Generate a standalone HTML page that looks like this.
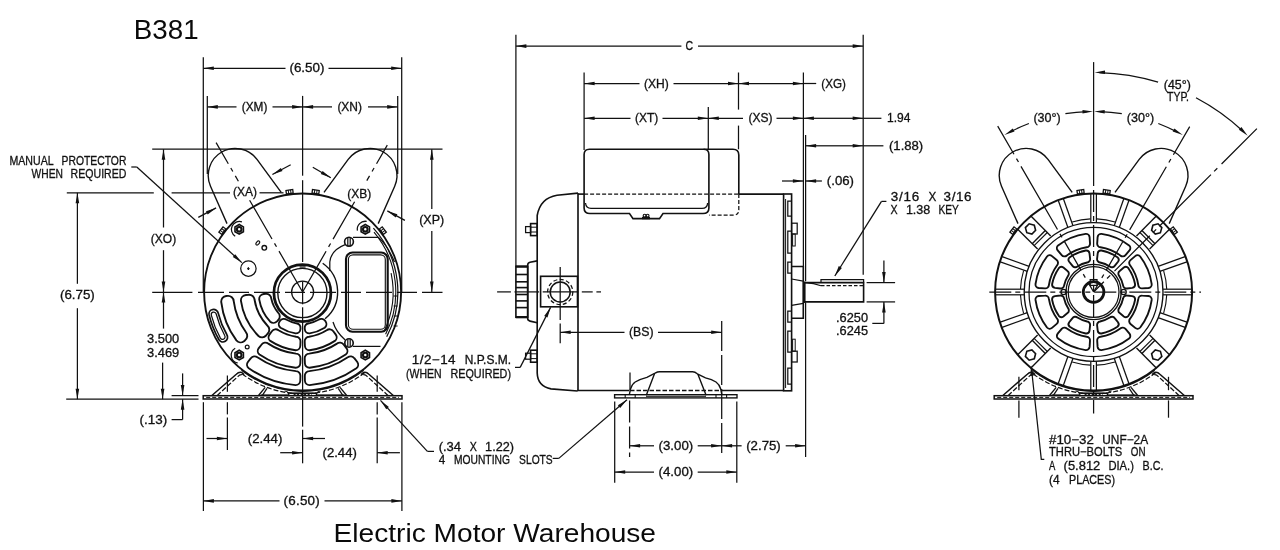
<!DOCTYPE html>
<html lang="en">
<head>
<meta charset="utf-8">
<title>B381 - Electric Motor Warehouse</title>
<style>
html,body{margin:0;padding:0;background:#fff;}
body{width:1280px;height:550px;overflow:hidden;}
svg{display:block;will-change:transform;}
text{fill:#111;}
.c{font-family:"Liberation Sans",sans-serif;stroke:#111;stroke-width:0.3px;}
.t{font-family:"Liberation Sans",sans-serif;fill:#0a0a0a;}
</style>
</head>
<body>
<svg width="1280" height="550" viewBox="0 0 1280 550" shape-rendering="geometricPrecision">
<rect x="0" y="0" width="1280" height="550" fill="#fff"/>
<text class="t" x="133.8" y="38.6" font-size="27" text-anchor="start" textLength="64.8" lengthAdjust="spacingAndGlyphs">B381</text>
<text class="t" x="333.6" y="542" font-size="26.4" text-anchor="start" textLength="322.4" lengthAdjust="spacingAndGlyphs">Electric Motor Warehouse</text>
<circle cx="302.6" cy="292" r="98.5" fill="none" stroke="#111" stroke-width="1.88"/>
<path d="M281.2 192.3 L257 159.4 A27 27 0 0 0 210.5 186.2 L227 223.6" fill="none" stroke="#111" stroke-width="1.38"/>
<g transform="translate(289.8 193.6) rotate(-7.4)"><rect x="-3.4" y="-3.6" width="6.8" height="3.6" fill="none" stroke="#111" stroke-width="1.3"/><line x1="-1.1" y1="-3.6" x2="-1.1" y2="0" stroke="#111"/><line x1="1.2" y1="-3.6" x2="1.2" y2="0" stroke="#111"/></g>
<g transform="translate(223.8 231.7) rotate(-52.6)"><rect x="-3.4" y="-3.6" width="6.8" height="3.6" fill="none" stroke="#111" stroke-width="1.3"/><line x1="-1.1" y1="-3.6" x2="-1.1" y2="0" stroke="#111"/><line x1="1.2" y1="-3.6" x2="1.2" y2="0" stroke="#111"/></g>
<path d="M378.2 223.6 L394.7 186.2 A27 27 0 0 0 348.2 159.4 L324 192.3" fill="none" stroke="#111" stroke-width="1.38"/>
<g transform="translate(315.4 193.6) rotate(7.4)"><rect x="-3.4" y="-3.6" width="6.8" height="3.6" fill="none" stroke="#111" stroke-width="1.3"/><line x1="-1.1" y1="-3.6" x2="-1.1" y2="0" stroke="#111"/><line x1="1.2" y1="-3.6" x2="1.2" y2="0" stroke="#111"/></g>
<g transform="translate(381.4 231.7) rotate(52.6)"><rect x="-3.4" y="-3.6" width="6.8" height="3.6" fill="none" stroke="#111" stroke-width="1.3"/><line x1="-1.1" y1="-3.6" x2="-1.1" y2="0" stroke="#111"/><line x1="1.2" y1="-3.6" x2="1.2" y2="0" stroke="#111"/></g>
<line x1="203.3" y1="57.2" x2="203.3" y2="292" stroke="#111" stroke-width="1.25"/>
<line x1="401.7" y1="57.2" x2="401.7" y2="292" stroke="#111" stroke-width="1.25"/>
<line x1="285.5" y1="68.3" x2="203.3" y2="68.3" stroke="#111" stroke-width="1.25"/>
<polygon points="203.3,68.3 213.8,66.5 213.8,70.1" fill="#111"/>
<line x1="328.5" y1="68.3" x2="401.7" y2="68.3" stroke="#111" stroke-width="1.25"/>
<polygon points="401.7,68.3 391.2,70.1 391.2,66.5" fill="#111"/>
<text class="c" x="289.4" y="72.2" font-size="12.2" text-anchor="start" textLength="35.2" lengthAdjust="spacingAndGlyphs" letter-spacing="0.02">(6.50)</text>
<line x1="207.3" y1="95.9" x2="207.3" y2="174" stroke="#111" stroke-width="1.25"/>
<line x1="397.7" y1="95.9" x2="397.7" y2="174" stroke="#111" stroke-width="1.25"/>
<line x1="302.6" y1="95.9" x2="302.6" y2="175.7" stroke="#111" stroke-width="1.25"/>
<line x1="302.6" y1="180.2" x2="302.6" y2="262" stroke="#111" stroke-width="1.25"/>
<line x1="302.6" y1="281.4" x2="302.6" y2="304.3" stroke="#111" stroke-width="1.25"/>
<line x1="302.6" y1="307.3" x2="302.6" y2="426.6" stroke="#111" stroke-width="1.25"/>
<line x1="302.6" y1="429.7" x2="302.6" y2="463.3" stroke="#111" stroke-width="1.25"/>
<line x1="236.5" y1="106.9" x2="207.3" y2="106.9" stroke="#111" stroke-width="1.25"/>
<polygon points="207.3,106.9 217.8,105.1 217.8,108.7" fill="#111"/>
<line x1="272.5" y1="106.9" x2="302.6" y2="106.9" stroke="#111" stroke-width="1.25"/>
<polygon points="302.6,106.9 292.1,108.7 292.1,105.1" fill="#111"/>
<line x1="332" y1="106.9" x2="302.6" y2="106.9" stroke="#111" stroke-width="1.25"/>
<polygon points="302.6,106.9 313.1,105.1 313.1,108.7" fill="#111"/>
<line x1="368" y1="106.9" x2="397.7" y2="106.9" stroke="#111" stroke-width="1.25"/>
<polygon points="397.7,106.9 387.2,108.7 387.2,105.1" fill="#111"/>
<text class="c" x="241.8" y="111" font-size="12.2" text-anchor="start" textLength="25.6" lengthAdjust="spacingAndGlyphs">(XM)</text>
<text class="c" x="337.4" y="111" font-size="12.2" text-anchor="start" textLength="24.6" lengthAdjust="spacingAndGlyphs">(XN)</text>
<line x1="152.2" y1="149.2" x2="442.5" y2="149.2" stroke="#111" stroke-width="1.25"/>
<line x1="66.8" y1="192.8" x2="153.8" y2="192.8" stroke="#111" stroke-width="1.25"/>
<line x1="171.6" y1="192.8" x2="230" y2="192.8" stroke="#111" stroke-width="1.25"/>
<line x1="259.5" y1="192.8" x2="283.5" y2="192.8" stroke="#111" stroke-width="1.25"/>
<line x1="152.2" y1="292.3" x2="192.4" y2="292.3" stroke="#111" stroke-width="1.25"/>
<line x1="198" y1="292.3" x2="442.5" y2="292.3" stroke="#111" stroke-width="1.25" stroke-dasharray="26 5 20 5"/>
<line x1="163.5" y1="227.5" x2="163.5" y2="149.2" stroke="#111" stroke-width="1.25"/>
<polygon points="163.5,149.2 165.3,159.7 161.7,159.7" fill="#111"/>
<line x1="163.5" y1="250.2" x2="163.5" y2="292" stroke="#111" stroke-width="1.25"/>
<polygon points="163.5,292 161.7,281.5 165.3,281.5" fill="#111"/>
<text class="c" x="150.8" y="242.6" font-size="12.2" text-anchor="start" textLength="25.4" lengthAdjust="spacingAndGlyphs">(XO)</text>
<line x1="431.8" y1="209" x2="431.8" y2="149.2" stroke="#111" stroke-width="1.25"/>
<polygon points="431.8,149.2 433.6,159.7 430,159.7" fill="#111"/>
<line x1="431.8" y1="231" x2="431.8" y2="292" stroke="#111" stroke-width="1.25"/>
<polygon points="431.8,292 430,281.5 433.6,281.5" fill="#111"/>
<text class="c" x="419.2" y="223.8" font-size="12.2" text-anchor="start" textLength="25" lengthAdjust="spacingAndGlyphs">(XP)</text>
<line x1="77.4" y1="283.8" x2="77.4" y2="192.8" stroke="#111" stroke-width="1.25"/>
<polygon points="77.4,192.8 79.2,203.3 75.6,203.3" fill="#111"/>
<line x1="77.4" y1="308.2" x2="77.4" y2="399.2" stroke="#111" stroke-width="1.25"/>
<polygon points="77.4,399.2 75.6,388.7 79.2,388.7" fill="#111"/>
<text class="c" x="60" y="299.4" font-size="12.2" text-anchor="start" textLength="34.8" lengthAdjust="spacingAndGlyphs">(6.75)</text>
<line x1="66.2" y1="399.2" x2="198.5" y2="399.2" stroke="#111" stroke-width="1.25"/>
<line x1="163.5" y1="328.6" x2="163.5" y2="292" stroke="#111" stroke-width="1.25"/>
<polygon points="163.5,292 165.3,302.5 161.7,302.5" fill="#111"/>
<line x1="162.6" y1="362.6" x2="162.6" y2="399.2" stroke="#111" stroke-width="1.25"/>
<polygon points="162.6,399.2 160.8,388.7 164.4,388.7" fill="#111"/>
<text class="c" x="147" y="343" font-size="12.2" text-anchor="start" textLength="32.2" lengthAdjust="spacingAndGlyphs">3.500</text>
<text class="c" x="147" y="356.6" font-size="12.2" text-anchor="start" textLength="32.2" lengthAdjust="spacingAndGlyphs">3.469</text>
<line x1="171.6" y1="395.6" x2="198.5" y2="395.6" stroke="#111" stroke-width="1.25"/>
<line x1="182.6" y1="373.4" x2="182.6" y2="395.6" stroke="#111" stroke-width="1.25"/>
<polygon points="182.6,395.6 180.8,385.1 184.4,385.1" fill="#111"/>
<line x1="182.6" y1="419.6" x2="182.6" y2="399.2" stroke="#111" stroke-width="1.25"/>
<polygon points="182.6,399.2 184.4,409.7 180.8,409.7" fill="#111"/>
<line x1="171.6" y1="419.6" x2="182.6" y2="419.6" stroke="#111" stroke-width="1.25"/>
<text class="c" x="139.4" y="423.6" font-size="12.2" text-anchor="start" textLength="27.8" lengthAdjust="spacingAndGlyphs" letter-spacing="0.04">(.13)</text>
<text class="c" y="164.7" font-size="12.2"><tspan x="9.5" textLength="43.7" lengthAdjust="spacingAndGlyphs">MANUAL</tspan> <tspan x="61.6" textLength="64.8" lengthAdjust="spacingAndGlyphs">PROTECTOR</tspan></text>
<text class="c" y="177.5" font-size="12.2"><tspan x="31.6" textLength="31.4" lengthAdjust="spacingAndGlyphs">WHEN</tspan> <tspan x="70.6" textLength="55.8" lengthAdjust="spacingAndGlyphs">REQUIRED</tspan></text>
<line x1="131.3" y1="167" x2="136.8" y2="167" stroke="#111" stroke-width="1.25"/>
<line x1="136.8" y1="167" x2="241.8" y2="262.6" stroke="#111" stroke-width="1.25"/>
<polygon points="241.8,262.6 232.8,256.9 235.2,254.2" fill="#111"/>
<circle cx="248.4" cy="268.6" r="7.7" fill="none" stroke="#111" stroke-width="1.25"/>
<line x1="248.4" y1="267.2" x2="248.4" y2="270" stroke="#111" stroke-width="1.25"/>
<line x1="247.2" y1="268.6" x2="249.6" y2="268.6" stroke="#111" stroke-width="1.25"/>
<line x1="198.3" y1="217.4" x2="216.1" y2="207.9" stroke="#111" stroke-width="1.25"/>
<polygon points="216.1,207.9 207.7,214.4 206,211.3" fill="#111"/>
<line x1="290.7" y1="164.7" x2="272.4" y2="174.5" stroke="#111" stroke-width="1.25"/>
<polygon points="272.4,174.5 280.8,168 282.5,171.1" fill="#111"/>
<line x1="312.8" y1="167.2" x2="330.8" y2="177.7" stroke="#111" stroke-width="1.25"/>
<polygon points="330.8,177.7 320.8,174 322.6,170.9" fill="#111"/>
<line x1="404.9" y1="220.4" x2="387.3" y2="210.9" stroke="#111" stroke-width="1.25"/>
<polygon points="387.3,210.9 397.4,214.3 395.7,217.5" fill="#111"/>
<text class="c" x="233" y="195.6" font-size="12.2" text-anchor="start" textLength="24" lengthAdjust="spacingAndGlyphs">(XA)</text>
<text class="c" x="347.3" y="198" font-size="12.2" text-anchor="start" textLength="24" lengthAdjust="spacingAndGlyphs">(XB)</text>
<path d="M216.1 142.6 L238.4 181.2" fill="none" stroke="#111" stroke-width="1.25" stroke-dasharray="24.4 5 4 5 73"/>
<path d="M249.6 200.2 L302.6 292" fill="none" stroke="#111" stroke-width="1.25" stroke-dasharray="44.8 5 4 5 73 5 4 5"/>
<path d="M387.3 145.1 L366.8 180.6" fill="none" stroke="#111" stroke-width="1.25" stroke-dasharray="21.5 5 4 5 73"/>
<path d="M354.6 201.8 L302.6 292" fill="none" stroke="#111" stroke-width="1.25" stroke-dasharray="43.1 5 4 5 73 5 4 5"/>
<circle cx="302.6" cy="292" r="11" fill="none" stroke="#111" stroke-width="1.25"/>
<circle cx="302.4" cy="293" r="28.5" fill="none" stroke="#111" stroke-width="2.75"/>
<circle cx="302.4" cy="293" r="24.6" fill="none" stroke="#111" stroke-width="1.38"/>
<path d="M322.7 263.3 A35 35 0 0 1 325.1 318.8" fill="none" stroke="#111" stroke-width="1.38"/>
<line x1="299.6" y1="267" x2="305.6" y2="267" stroke="#111" stroke-width="1.25"/>
<polygon points="243.4,231.7 239.2,234.1 235,231.7 235,226.9 239.2,224.5 243.4,226.9" fill="none" stroke="#111" stroke-width="1.62"/>
<circle cx="239.2" cy="229.3" r="2.3" fill="none" stroke="#111" stroke-width="2.12"/>
<polygon points="369.5,231.7 365.3,234.1 361.1,231.7 361.1,226.9 365.3,224.5 369.5,226.9" fill="none" stroke="#111" stroke-width="1.62"/>
<circle cx="365.3" cy="229.3" r="2.3" fill="none" stroke="#111" stroke-width="2.12"/>
<polygon points="243.4,357.5 239.2,359.9 235,357.5 235,352.7 239.2,350.3 243.4,352.7" fill="none" stroke="#111" stroke-width="1.62"/>
<circle cx="239.2" cy="355.1" r="2.3" fill="none" stroke="#111" stroke-width="2.12"/>
<polygon points="369.5,357.5 365.3,359.9 361.1,357.5 361.1,352.7 365.3,350.3 369.5,352.7" fill="none" stroke="#111" stroke-width="1.62"/>
<circle cx="365.3" cy="355.1" r="2.3" fill="none" stroke="#111" stroke-width="2.12"/>
<path d="M235.2 236.2 A8 8 0 0 1 241.9 221.8" fill="none" stroke="#111" stroke-width="1.25"/>
<path d="M357.4 230.7 A8 8 0 0 1 366.7 221.4" fill="none" stroke="#111" stroke-width="1.25"/>
<path d="M237.8 363 A8 8 0 0 1 235.2 348.2" fill="none" stroke="#111" stroke-width="1.25"/>
<ellipse cx="257.8" cy="243" rx="1.4" ry="2.4" transform="rotate(40 257.8 243)" fill="none" stroke="#111" stroke-width="1.1"/>
<circle cx="264.3" cy="247.8" r="2.3" fill="none" stroke="#111" stroke-width="1.38"/>
<circle cx="247.2" cy="347" r="1.9" fill="none" stroke="#111" stroke-width="1.25"/>
<rect x="346" y="252.5" width="41.7" height="79.2" rx="6.5" fill="none" stroke="#111" stroke-width="2.12"/>
<rect x="348.4" y="254.9" width="36.9" height="74.4" rx="4.6" fill="none" stroke="#111" stroke-width="1.12"/>
<circle cx="349" cy="241.7" r="4.4" fill="none" stroke="#111" stroke-width="1.62"/>
<line x1="347.8" y1="237.8" x2="347.8" y2="245.6" stroke="#111" stroke-width="1.25"/>
<line x1="350.2" y1="237.8" x2="350.2" y2="245.6" stroke="#111" stroke-width="1.25"/>
<circle cx="349" cy="343" r="4.2" fill="none" stroke="#111" stroke-width="1.62"/>
<line x1="347.8" y1="339.2" x2="347.8" y2="346.8" stroke="#111" stroke-width="1.25"/>
<line x1="350.2" y1="339.2" x2="350.2" y2="346.8" stroke="#111" stroke-width="1.25"/>
<path d="M353 237.4 L378.5 237.4 Q388 246 394.5 262" fill="none" stroke="#111" stroke-width="1.25"/>
<path d="M345.2 244.6 Q331 250 329.8 262 L329.8 271" fill="none" stroke="#111" stroke-width="1.25"/>
<path d="M353 346.4 L380.5 346.4" fill="none" stroke="#111" stroke-width="1.25"/>
<path d="M345.2 340 Q336 332 333 322" fill="none" stroke="#111" stroke-width="1.25"/>
<path d="M373.4 228.2 A95.3 95.3 0 0 1 386.7 336.7" fill="none" stroke="#111" stroke-width="1.25"/>
<path d="M374 232.1 A93.2 93.2 0 0 1 385.6 334.3" fill="none" stroke="#111" stroke-width="1.12"/>
<path d="M391.1 273.2 A90.5 90.5 0 0 1 383.9 331.7" fill="none" stroke="#111" stroke-width="1.12"/>
<line x1="393.6" y1="296" x2="397.6" y2="296" stroke="#111" stroke-width="1"/>
<line x1="393.6" y1="306" x2="397.6" y2="306" stroke="#111" stroke-width="1"/>
<line x1="393.6" y1="316" x2="397.6" y2="316" stroke="#111" stroke-width="1"/>
<line x1="393.6" y1="326" x2="397.6" y2="326" stroke="#111" stroke-width="1"/>
<path d="M318.5 319.8 A32 32 0 0 1 309 323.3 A4.6 4.6 0 0 0 304.7 328.5 L304.8 329.3 A4.6 4.6 0 0 0 309.6 333.4 A42 42 0 0 0 324.7 327.7 A4.6 4.6 0 0 0 325.6 321.5 L325.1 320.8 A4.6 4.6 0 0 0 318.5 319.8 Z" fill="none" stroke="#111" stroke-width="1.88"/>
<path d="M296.2 323.3 A32 32 0 0 1 286.7 319.8 A4.6 4.6 0 0 0 280.1 320.8 L279.6 321.5 A4.6 4.6 0 0 0 280.5 327.7 A42 42 0 0 0 295.6 333.4 A4.6 4.6 0 0 0 300.4 329.3 L300.5 328.5 A4.6 4.6 0 0 0 296.2 323.3 Z" fill="none" stroke="#111" stroke-width="1.88"/>
<path d="M326.7 330.3 A45.2 45.2 0 0 1 309.1 336.7 A4.6 4.6 0 0 0 304.7 341.8 L304.9 346 A4.6 4.6 0 0 0 309.6 350.2 A58.6 58.6 0 0 0 334.9 340.9 A4.6 4.6 0 0 0 335.8 334.6 L333.3 331.2 A4.6 4.6 0 0 0 326.7 330.3 Z" fill="none" stroke="#111" stroke-width="1.88"/>
<path d="M296.1 336.7 A45.2 45.2 0 0 1 278.5 330.3 A4.6 4.6 0 0 0 271.9 331.2 L269.4 334.6 A4.6 4.6 0 0 0 270.3 340.9 A58.6 58.6 0 0 0 295.6 350.2 A4.6 4.6 0 0 0 300.3 346 L300.5 341.8 A4.6 4.6 0 0 0 296.1 336.7 Z" fill="none" stroke="#111" stroke-width="1.88"/>
<path d="M337 343.6 A62 62 0 0 1 309.2 353.6 A4.6 4.6 0 0 0 304.7 358.6 L304.9 363.4 A4.6 4.6 0 0 0 309.6 367.7 A76 76 0 0 0 345.7 354.6 A4.6 4.6 0 0 0 346.6 348.3 L343.6 344.5 A4.6 4.6 0 0 0 337 343.6 Z" fill="none" stroke="#111" stroke-width="1.88"/>
<path d="M296 353.6 A62 62 0 0 1 268.2 343.6 A4.6 4.6 0 0 0 261.6 344.5 L258.6 348.3 A4.6 4.6 0 0 0 259.5 354.6 A76 76 0 0 0 295.6 367.7 A4.6 4.6 0 0 0 300.3 363.4 L300.5 358.6 A4.6 4.6 0 0 0 296 353.6 Z" fill="none" stroke="#111" stroke-width="1.88"/>
<path d="M347.8 357.3 A79.4 79.4 0 0 1 309.3 371.1 A4.6 4.6 0 0 0 304.8 376 L304.9 380.8 A4.6 4.6 0 0 0 309.6 385.1 A93.4 93.4 0 0 0 356.4 368.3 A4.6 4.6 0 0 0 357.3 362 L354.3 358.2 A4.6 4.6 0 0 0 347.8 357.3 Z" fill="none" stroke="#111" stroke-width="1.88"/>
<path d="M295.9 371.1 A79.4 79.4 0 0 1 257.4 357.3 A4.6 4.6 0 0 0 250.9 358.2 L247.9 362 A4.6 4.6 0 0 0 248.8 368.3 A93.4 93.4 0 0 0 295.6 385.1 A4.6 4.6 0 0 0 300.3 380.8 L300.4 376 A4.6 4.6 0 0 0 295.9 371.1 Z" fill="none" stroke="#111" stroke-width="1.88"/>
<path d="M278.1 312.6 A32 32 0 0 1 271.3 298.6 A5 5 0 0 0 265.7 293.9 L263.7 294 A5 5 0 0 0 259.2 299.3 A44 44 0 0 0 270.2 321.7 A5 5 0 0 0 277 321.4 L278.3 319.9 A5 5 0 0 0 278.1 312.6 Z" fill="none" stroke="#111" stroke-width="1.88"/>
<path d="M267.3 325.5 A48.7 48.7 0 0 1 254.6 300 A5.5 5.5 0 0 0 248.5 294.8 L245.9 295 A5.5 5.5 0 0 0 240.9 300.7 A62.3 62.3 0 0 0 258.5 336 A5.5 5.5 0 0 0 266.1 335.5 L267.8 333.5 A5.5 5.5 0 0 0 267.3 325.5 Z" fill="none" stroke="#111" stroke-width="1.88"/>
<path d="M246 332.3 A69.5 69.5 0 0 1 233.7 301.1 A5.5 5.5 0 0 0 227.7 295.9 L226.2 296 A5.5 5.5 0 0 0 221.2 301.8 A82 82 0 0 0 236.4 340.4 A5.5 5.5 0 0 0 244 341.2 L245.1 340.2 A5.5 5.5 0 0 0 246 332.3 Z" fill="none" stroke="#111" stroke-width="1.88"/>
<path d="M226.9 334.8 A87 87 0 0 1 218.2 313.1 A4.6 4.6 0 0 0 212.7 309.5 L212.6 309.5 A4.6 4.6 0 0 0 209.1 314.9 A96.3 96.3 0 0 0 219 339.8 A4.6 4.6 0 0 0 225.3 341.3 L225.3 341.2 A4.6 4.6 0 0 0 226.9 334.8 Z" fill="none" stroke="#111" stroke-width="1.75"/>
<path d="M224.7 335.5 A89.2 89.2 0 0 1 216.2 314 A2.5 2.5 0 0 0 213.1 312.2 L213.1 312.2 A2.5 2.5 0 0 0 211.3 315.1 A94.2 94.2 0 0 0 220.4 338.1 A2.5 2.5 0 0 0 223.8 339 L223.8 339 A2.5 2.5 0 0 0 224.7 335.5 Z" fill="none" stroke="#111" stroke-width="1.25"/>
<rect x="203.2" y="395.7" width="198.8" height="3.3" rx="0" fill="none" stroke="#111" stroke-width="1.5"/>
<line x1="206.2" y1="397.4" x2="399" y2="397.4" stroke="#111" stroke-width="1" stroke-dasharray="4 2"/>
<path d="M211.6 395.7 L236.3 374.2 Q238.8 371.6 241.6 372.4 L244.2 374.6" fill="none" stroke="#111" stroke-width="1.5"/>
<path d="M217 395.7 L237.8 376.6 Q240 374.2 242.2 374.8" fill="none" stroke="#111" stroke-width="1.25" stroke-dasharray="5 2"/>
<path d="M258.3 395.7 L265.2 387.4" fill="none" stroke="#111" stroke-width="1.38"/>
<path d="M262.2 395.7 L267 388.3" fill="none" stroke="#111" stroke-width="1.25"/>
<path d="M289.2 396.2 L288.4 393 Q287.4 391.2 284.6 391" fill="none" stroke="#111" stroke-width="1.25"/>
<line x1="288.6" y1="394.9" x2="260.6" y2="394.9" stroke="#111" stroke-width="1"/>
<path d="M393.6 395.7 L368.9 374.2 Q366.4 371.6 363.6 372.4 L361 374.6" fill="none" stroke="#111" stroke-width="1.5"/>
<path d="M388.2 395.7 L367.4 376.6 Q365.2 374.2 363 374.8" fill="none" stroke="#111" stroke-width="1.25" stroke-dasharray="5 2"/>
<path d="M346.9 395.7 L340 387.4" fill="none" stroke="#111" stroke-width="1.38"/>
<path d="M343 395.7 L338.2 388.3" fill="none" stroke="#111" stroke-width="1.25"/>
<path d="M316 396.2 L316.8 393 Q317.8 391.2 320.6 391" fill="none" stroke="#111" stroke-width="1.25"/>
<line x1="316.6" y1="394.9" x2="344.6" y2="394.9" stroke="#111" stroke-width="1"/>
<path d="M363.7 370.2 A99.2 99.2 0 0 1 241.5 370.2" fill="none" stroke="#111" stroke-width="1.25"/>
<path d="M364.6 372.8 A101.9 101.9 0 0 1 240.6 372.8" fill="none" stroke="#111" stroke-width="1.12" stroke-dasharray="5 2"/>
<line x1="289.2" y1="393.2" x2="316" y2="393.2" stroke="#111" stroke-width="1.62"/>
<line x1="293.6" y1="394.6" x2="311.6" y2="394.6" stroke="#111" stroke-width="1" stroke-dasharray="2 1.5"/>
<line x1="203.4" y1="402.2" x2="203.4" y2="511" stroke="#111" stroke-width="1.25"/>
<line x1="401.9" y1="402.2" x2="401.9" y2="511" stroke="#111" stroke-width="1.25"/>
<line x1="227.4" y1="375.5" x2="227.4" y2="391.8" stroke="#111" stroke-width="1.25"/>
<line x1="227.4" y1="402.2" x2="227.4" y2="414.4" stroke="#111" stroke-width="1.25"/>
<line x1="227.4" y1="417.5" x2="227.4" y2="450" stroke="#111" stroke-width="1.25"/>
<line x1="377.2" y1="375.5" x2="377.2" y2="391.8" stroke="#111" stroke-width="1.25"/>
<line x1="377.2" y1="402.2" x2="377.2" y2="414.4" stroke="#111" stroke-width="1.25"/>
<line x1="377.2" y1="417.5" x2="377.2" y2="463.3" stroke="#111" stroke-width="1.25"/>
<line x1="206.5" y1="438.5" x2="227.4" y2="438.5" stroke="#111" stroke-width="1.25"/>
<polygon points="227.4,438.5 216.9,440.3 216.9,436.7" fill="#111"/>
<line x1="325" y1="438.5" x2="302.6" y2="438.5" stroke="#111" stroke-width="1.25"/>
<polygon points="302.6,438.5 313.1,436.7 313.1,440.3" fill="#111"/>
<text class="c" x="247.8" y="442.6" font-size="12.2" text-anchor="start" textLength="34.6" lengthAdjust="spacingAndGlyphs">(2.44)</text>
<line x1="280.2" y1="452.7" x2="302.6" y2="452.7" stroke="#111" stroke-width="1.25"/>
<polygon points="302.6,452.7 292.1,454.5 292.1,450.9" fill="#111"/>
<line x1="399.9" y1="452.7" x2="377.2" y2="452.7" stroke="#111" stroke-width="1.25"/>
<polygon points="377.2,452.7 387.7,450.9 387.7,454.5" fill="#111"/>
<text class="c" x="322.5" y="456.8" font-size="12.2" text-anchor="start" textLength="34.4" lengthAdjust="spacingAndGlyphs">(2.44)</text>
<line x1="279.5" y1="500.9" x2="203.4" y2="500.9" stroke="#111" stroke-width="1.25"/>
<polygon points="203.4,500.9 213.9,499.1 213.9,502.7" fill="#111"/>
<line x1="324.5" y1="500.9" x2="401.9" y2="500.9" stroke="#111" stroke-width="1.25"/>
<polygon points="401.9,500.9 391.4,502.7 391.4,499.1" fill="#111"/>
<text class="c" x="283.6" y="505" font-size="12.2" text-anchor="start" textLength="36.4" lengthAdjust="spacingAndGlyphs" letter-spacing="0.20">(6.50)</text>
<line x1="427.4" y1="451.4" x2="380.5" y2="400.4" stroke="#111" stroke-width="1.25"/>
<polygon points="380.5,400.4 388.9,406.9 386.3,409.3" fill="#111"/>
<line x1="427.4" y1="451.4" x2="434" y2="451.4" stroke="#111" stroke-width="1.25"/>
<text class="c" y="451" font-size="12.2"><tspan x="438.7" textLength="22.4" lengthAdjust="spacingAndGlyphs">(.34</tspan> <tspan x="469.8" textLength="7.1" lengthAdjust="spacingAndGlyphs">X</tspan> <tspan x="485.1" textLength="28.9" lengthAdjust="spacingAndGlyphs">1.22)</tspan></text>
<text class="c" y="463.6" font-size="12.2"><tspan x="438.7" textLength="6.5" lengthAdjust="spacingAndGlyphs">4</tspan> <tspan x="454" textLength="55.9" lengthAdjust="spacingAndGlyphs">MOUNTING</tspan> <tspan x="519.1" textLength="33.6" lengthAdjust="spacingAndGlyphs">SLOTS</tspan></text>
<line x1="552.7" y1="458.4" x2="558.8" y2="458.4" stroke="#111" stroke-width="1.25"/>
<line x1="558.8" y1="458.4" x2="627" y2="399.8" stroke="#111" stroke-width="1.25"/>
<polygon points="627,399.8 620.2,408 617.9,405.3" fill="#111"/>
<line x1="578" y1="194.1" x2="584.1" y2="194.1" stroke="#111" stroke-width="1.62"/>
<line x1="738.8" y1="194.1" x2="783.6" y2="194.1" stroke="#111" stroke-width="1.62"/>
<line x1="584.1" y1="194.1" x2="738.8" y2="194.1" stroke="#111" stroke-width="1.25" stroke-dasharray="4 2"/>
<line x1="577.2" y1="390.5" x2="629.3" y2="390.5" stroke="#111" stroke-width="1.62"/>
<line x1="721.3" y1="390.5" x2="783.6" y2="390.5" stroke="#111" stroke-width="1.62"/>
<line x1="578" y1="193.2" x2="578" y2="390.8" stroke="#111" stroke-width="1.62"/>
<path d="M578 193.1 L557 195.2 Q540.2 198 537.2 215.5 L537.2 373 Q537.6 386.2 551 388.9 L577.6 391" fill="none" stroke="#111" stroke-width="1.62"/>
<path d="M537.2 260.9 L530 262.3 Q527.7 262.8 527.7 265 L527.7 318.6 Q527.7 320.6 530 321.1 L537.2 322.7" fill="none" stroke="#111" stroke-width="1.62"/>
<rect x="515.9" y="266.4" width="11.8" height="50.9" rx="0" fill="none" stroke="#111" stroke-width="1.62"/>
<line x1="515.9" y1="266.6" x2="527.7" y2="266.6" stroke="#111" stroke-width="2.25"/>
<line x1="515.9" y1="317.1" x2="527.7" y2="317.1" stroke="#111" stroke-width="2.25"/>
<line x1="515.9" y1="274.5" x2="527.7" y2="274.5" stroke="#111" stroke-width="1.62"/>
<line x1="515.9" y1="281.8" x2="527.7" y2="281.8" stroke="#111" stroke-width="1.62"/>
<line x1="515.9" y1="287.6" x2="527.7" y2="287.6" stroke="#111" stroke-width="1.62"/>
<line x1="515.9" y1="294.5" x2="527.7" y2="294.5" stroke="#111" stroke-width="1.62"/>
<line x1="515.9" y1="300.9" x2="527.7" y2="300.9" stroke="#111" stroke-width="1.62"/>
<line x1="515.9" y1="307.6" x2="527.7" y2="307.6" stroke="#111" stroke-width="1.62"/>
<rect x="530.6" y="223.6" width="6.6" height="12" rx="0" fill="none" stroke="#111" stroke-width="1.62"/>
<line x1="530.6" y1="227.2" x2="537.2" y2="227.2" stroke="#111" stroke-width="1"/>
<line x1="530.6" y1="232" x2="537.2" y2="232" stroke="#111" stroke-width="1"/>
<rect x="525.6" y="226.6" width="5" height="6" rx="0" fill="none" stroke="#111" stroke-width="1.25"/>
<rect x="530.6" y="350.2" width="6.6" height="12" rx="0" fill="none" stroke="#111" stroke-width="1.62"/>
<line x1="530.6" y1="353.8" x2="537.2" y2="353.8" stroke="#111" stroke-width="1"/>
<line x1="530.6" y1="358.6" x2="537.2" y2="358.6" stroke="#111" stroke-width="1"/>
<rect x="525.6" y="353.2" width="5" height="6" rx="0" fill="none" stroke="#111" stroke-width="1.25"/>
<rect x="540.6" y="276.3" width="36.9" height="30.5" rx="0" fill="none" stroke="#111" stroke-width="1.62"/>
<circle cx="560.2" cy="292" r="10" fill="none" stroke="#111" stroke-width="1.5"/>
<circle cx="560.2" cy="292" r="12.6" fill="none" stroke="#111" stroke-width="1.25" stroke-dasharray="4 2.5"/>
<line x1="497.1" y1="291.9" x2="510.9" y2="291.9" stroke="#111" stroke-width="1.25"/>
<line x1="514.5" y1="291.9" x2="539.1" y2="291.9" stroke="#111" stroke-width="1.25"/>
<line x1="542.7" y1="291.9" x2="578.2" y2="291.9" stroke="#111" stroke-width="1.25"/>
<line x1="581.8" y1="291.9" x2="592.7" y2="291.9" stroke="#111" stroke-width="1.25"/>
<line x1="596.4" y1="291.9" x2="601" y2="291.9" stroke="#111" stroke-width="1.25"/>
<line x1="560.2" y1="266.9" x2="560.2" y2="320" stroke="#111" stroke-width="1.25"/>
<line x1="560.2" y1="323.4" x2="560.2" y2="343.3" stroke="#111" stroke-width="1.25"/>
<path d="M584.1 208 L584.1 154.6 Q584.1 149.3 589.4 149.3 L703.6 149.3 Q708.9 149.3 708.9 154.6 L708.9 208 Q708.9 213.5 703 213.5 L663 213.5 L659.5 218.6 L633 218.6 L629.5 213.5 L590 213.5 Q584.1 213.5 584.1 208 Z" fill="none" stroke="#111" stroke-width="1.62"/>
<path d="M585.5 203 Q586 208.4 591 208.4 L702 208.4 Q707.4 208.4 707.6 203" fill="none" stroke="#111" stroke-width="1.25"/>
<path d="M703.6 149.3 L733 149.3 Q738.8 149.3 738.8 155 L738.8 194.1" fill="none" stroke="#111" stroke-width="1.62"/>
<path d="M738.8 194.1 L738.8 210 Q738.8 215.1 733.5 215.1 L709 215.1" fill="none" stroke="#111" stroke-width="1.25" stroke-dasharray="4 2"/>
<line x1="642" y1="218" x2="650" y2="218" stroke="#111" stroke-width="2.5"/>
<circle cx="644.6" cy="215.6" r="1.4" fill="none" stroke="#111" stroke-width="1.12"/>
<circle cx="647.6" cy="215.6" r="1.4" fill="none" stroke="#111" stroke-width="1.12"/>
<rect x="783.6" y="194" width="8" height="196.8" rx="0" fill="none" stroke="#111" stroke-width="1.62"/>
<path d="M791.6 201 L787.8 201 L787.8 216 L791.6 216" fill="none" stroke="#111" stroke-width="1.25"/>
<path d="M791.6 231 L787.8 231 L787.8 253 L791.6 253" fill="none" stroke="#111" stroke-width="1.25"/>
<path d="M791.6 262 L787.8 262 L787.8 273 L791.6 273" fill="none" stroke="#111" stroke-width="1.25"/>
<path d="M791.6 311 L787.8 311 L787.8 322 L791.6 322" fill="none" stroke="#111" stroke-width="1.25"/>
<path d="M791.6 331 L787.8 331 L787.8 352 L791.6 352" fill="none" stroke="#111" stroke-width="1.25"/>
<path d="M791.6 368 L787.8 368 L787.8 384 L791.6 384" fill="none" stroke="#111" stroke-width="1.25"/>
<line x1="785.6" y1="199" x2="785.6" y2="388" stroke="#111" stroke-width="1"/>
<rect x="791.6" y="223.2" width="5.6" height="10.8" rx="0" fill="none" stroke="#111" stroke-width="1.25"/>
<rect x="792.6" y="234" width="2.6" height="12" rx="0" fill="none" stroke="#111" stroke-width="1"/>
<rect x="791.6" y="351.2" width="5.6" height="10.8" rx="0" fill="none" stroke="#111" stroke-width="1.25"/>
<rect x="792.6" y="339.2" width="2.6" height="12" rx="0" fill="none" stroke="#111" stroke-width="1"/>
<path d="M791.6 266.5 L803.3 266.5 L803.3 318.2 L791.6 318.2" fill="none" stroke="#111" stroke-width="1.62"/>
<path d="M791.6 279 L803.3 281.2 M791.6 305.4 L803.3 303.3" fill="none" stroke="#111" stroke-width="1.25"/>
<line x1="804.2" y1="281.5" x2="804.2" y2="303" stroke="#111" stroke-width="2.75"/>
<path d="M805 282.6 L863.6 282.6 L863.6 301.9 L805 301.9" fill="none" stroke="#111" stroke-width="1.62"/>
<path d="M821 282.6 L821 279.6 L863.6 279.6 L863.6 282.6" fill="none" stroke="#111" stroke-width="1.25"/>
<line x1="821" y1="285.7" x2="863.6" y2="285.7" stroke="#111" stroke-width="1.25" stroke-dasharray="3.5 2"/>
<path d="M805 282.6 Q814 283 821 285.7" fill="none" stroke="#111" stroke-width="1.12"/>
<line x1="515.9" y1="34.7" x2="515.9" y2="266.4" stroke="#111" stroke-width="1.25"/>
<line x1="863.2" y1="34.7" x2="863.2" y2="274.7" stroke="#111" stroke-width="1.25"/>
<line x1="681.4" y1="46.1" x2="515.9" y2="46.1" stroke="#111" stroke-width="1.25"/>
<polygon points="515.9,46.1 526.4,44.3 526.4,47.9" fill="#111"/>
<line x1="698" y1="46.1" x2="863.2" y2="46.1" stroke="#111" stroke-width="1.25"/>
<polygon points="863.2,46.1 852.7,47.9 852.7,44.3" fill="#111"/>
<text class="c" x="685.6" y="50.1" font-size="12.2" text-anchor="start" textLength="7.6" lengthAdjust="spacingAndGlyphs">C</text>
<line x1="584.1" y1="72.5" x2="584.1" y2="150" stroke="#111" stroke-width="1.25"/>
<line x1="738.5" y1="72.5" x2="738.5" y2="109.6" stroke="#111" stroke-width="1.25"/>
<line x1="738.5" y1="125.6" x2="738.5" y2="149.3" stroke="#111" stroke-width="1.25"/>
<line x1="803.4" y1="72.5" x2="803.4" y2="267" stroke="#111" stroke-width="1.25"/>
<line x1="805.6" y1="135" x2="805.6" y2="281" stroke="#111" stroke-width="1.25"/>
<line x1="708.3" y1="107.1" x2="708.3" y2="150" stroke="#111" stroke-width="1.25"/>
<line x1="639.5" y1="83.5" x2="584.1" y2="83.5" stroke="#111" stroke-width="1.25"/>
<polygon points="584.1,83.5 594.6,81.7 594.6,85.3" fill="#111"/>
<line x1="673.5" y1="83.5" x2="738.5" y2="83.5" stroke="#111" stroke-width="1.25"/>
<polygon points="738.5,83.5 728,85.3 728,81.7" fill="#111"/>
<text class="c" x="644" y="87.6" font-size="12.2" text-anchor="start" textLength="24.8" lengthAdjust="spacingAndGlyphs">(XH)</text>
<line x1="771" y1="83.5" x2="738.5" y2="83.5" stroke="#111" stroke-width="1.25"/>
<polygon points="738.5,83.5 749,81.7 749,85.3" fill="#111"/>
<line x1="771" y1="83.5" x2="803.4" y2="83.5" stroke="#111" stroke-width="1.25"/>
<polygon points="803.4,83.5 792.9,85.3 792.9,81.7" fill="#111"/>
<line x1="803.4" y1="83.5" x2="816.2" y2="83.5" stroke="#111" stroke-width="1.25"/>
<text class="c" x="821.3" y="87.6" font-size="12.2" text-anchor="start" textLength="24.6" lengthAdjust="spacingAndGlyphs">(XG)</text>
<line x1="630.5" y1="118.3" x2="584.1" y2="118.3" stroke="#111" stroke-width="1.25"/>
<polygon points="584.1,118.3 594.6,116.5 594.6,120.1" fill="#111"/>
<line x1="662.5" y1="118.3" x2="708.3" y2="118.3" stroke="#111" stroke-width="1.25"/>
<polygon points="708.3,118.3 697.8,120.1 697.8,116.5" fill="#111"/>
<text class="c" x="635" y="122.4" font-size="12.2" text-anchor="start" textLength="23.2" lengthAdjust="spacingAndGlyphs">(XT)</text>
<line x1="743" y1="118.3" x2="708.3" y2="118.3" stroke="#111" stroke-width="1.25"/>
<polygon points="708.3,118.3 718.8,116.5 718.8,120.1" fill="#111"/>
<line x1="776.5" y1="118.3" x2="803.4" y2="118.3" stroke="#111" stroke-width="1.25"/>
<polygon points="803.4,118.3 792.9,120.1 792.9,116.5" fill="#111"/>
<text class="c" x="748.6" y="122.4" font-size="12.2" text-anchor="start" textLength="24" lengthAdjust="spacingAndGlyphs">(XS)</text>
<line x1="833" y1="118.3" x2="803.4" y2="118.3" stroke="#111" stroke-width="1.25"/>
<polygon points="803.4,118.3 813.9,116.5 813.9,120.1" fill="#111"/>
<line x1="833" y1="118.3" x2="863.2" y2="118.3" stroke="#111" stroke-width="1.25"/>
<polygon points="863.2,118.3 852.7,120.1 852.7,116.5" fill="#111"/>
<line x1="863.2" y1="118.3" x2="881.4" y2="118.3" stroke="#111" stroke-width="1.25"/>
<text class="c" x="887" y="122" font-size="12.2" text-anchor="start" textLength="23.4" lengthAdjust="spacingAndGlyphs">1.94</text>
<line x1="834" y1="145.8" x2="805.6" y2="145.8" stroke="#111" stroke-width="1.25"/>
<polygon points="805.6,145.8 816.1,144 816.1,147.6" fill="#111"/>
<line x1="834" y1="145.8" x2="863.2" y2="145.8" stroke="#111" stroke-width="1.25"/>
<polygon points="863.2,145.8 852.7,147.6 852.7,144" fill="#111"/>
<line x1="863.2" y1="145.8" x2="883.4" y2="145.8" stroke="#111" stroke-width="1.25"/>
<text class="c" x="889" y="149.9" font-size="12.2" text-anchor="start" textLength="34.2" lengthAdjust="spacingAndGlyphs">(1.88)</text>
<line x1="782" y1="181" x2="803.4" y2="181" stroke="#111" stroke-width="1.25"/>
<polygon points="803.4,181 792.9,182.8 792.9,179.2" fill="#111"/>
<line x1="821.9" y1="181" x2="805.6" y2="181" stroke="#111" stroke-width="1.25"/>
<polygon points="805.6,181 816.1,179.2 816.1,182.8" fill="#111"/>
<text class="c" x="826.8" y="185.1" font-size="12.2" text-anchor="start" textLength="27.2" lengthAdjust="spacingAndGlyphs">(.06)</text>
<text class="c" y="200.8" font-size="12.2"><tspan x="890.7" textLength="29.5" lengthAdjust="spacingAndGlyphs" letter-spacing="0.77">3/16</tspan> <tspan x="928.6" textLength="7.8" lengthAdjust="spacingAndGlyphs">X</tspan> <tspan x="943.6" textLength="28.5" lengthAdjust="spacingAndGlyphs" letter-spacing="0.54">3/16</tspan></text>
<text class="c" y="213.7" font-size="12.2"><tspan x="890.5" textLength="7.1" lengthAdjust="spacingAndGlyphs">X</tspan> <tspan x="905.9" textLength="24.4" lengthAdjust="spacingAndGlyphs">1.38</tspan> <tspan x="938.5" textLength="20.4" lengthAdjust="spacingAndGlyphs">KEY</tspan></text>
<line x1="881.5" y1="201.4" x2="886.4" y2="201.4" stroke="#111" stroke-width="1.25"/>
<line x1="881.5" y1="201.4" x2="834.8" y2="276" stroke="#111" stroke-width="1.25"/>
<polygon points="834.8,276 838.8,266.1 841.9,268.1" fill="#111"/>
<line x1="866.6" y1="282.6" x2="895.1" y2="282.6" stroke="#111" stroke-width="1.25"/>
<line x1="866.6" y1="301.9" x2="895.1" y2="301.9" stroke="#111" stroke-width="1.25"/>
<line x1="883.9" y1="260.6" x2="883.9" y2="282.4" stroke="#111" stroke-width="1.25"/>
<polygon points="883.9,282.4 882.1,271.9 885.7,271.9" fill="#111"/>
<line x1="883.9" y1="323.4" x2="883.9" y2="302.1" stroke="#111" stroke-width="1.25"/>
<polygon points="883.9,302.1 885.7,312.6 882.1,312.6" fill="#111"/>
<line x1="872.3" y1="323.4" x2="883.9" y2="323.4" stroke="#111" stroke-width="1.25"/>
<text class="c" x="836" y="321.8" font-size="12.2" text-anchor="start" textLength="32" lengthAdjust="spacingAndGlyphs">.6250</text>
<text class="c" x="836" y="334.7" font-size="12.2" text-anchor="start" textLength="32" lengthAdjust="spacingAndGlyphs">.6245</text>
<line x1="721.7" y1="321" x2="721.7" y2="457" stroke="#111" stroke-width="1.25" stroke-dasharray="30 4"/>
<line x1="624.5" y1="332.3" x2="560.2" y2="332.3" stroke="#111" stroke-width="1.25"/>
<polygon points="560.2,332.3 570.7,330.5 570.7,334.1" fill="#111"/>
<line x1="658" y1="332.3" x2="721.7" y2="332.3" stroke="#111" stroke-width="1.25"/>
<polygon points="721.7,332.3 711.2,334.1 711.2,330.5" fill="#111"/>
<text class="c" x="629" y="336.4" font-size="12.2" text-anchor="start" textLength="24.6" lengthAdjust="spacingAndGlyphs">(BS)</text>
<text class="c" y="364.4" font-size="12.2"><tspan x="411.8" textLength="44.2" lengthAdjust="spacingAndGlyphs" letter-spacing="0.42">1/2−14</tspan> <tspan x="464.7" textLength="46.3" lengthAdjust="spacingAndGlyphs">N.P.S.M.</tspan></text>
<text class="c" y="378.4" font-size="12.2"><tspan x="406.1" textLength="35.6" lengthAdjust="spacingAndGlyphs">(WHEN</tspan> <tspan x="450.5" textLength="60.5" lengthAdjust="spacingAndGlyphs">REQUIRED)</tspan></text>
<line x1="515" y1="367.4" x2="520.2" y2="367.4" stroke="#111" stroke-width="1.25"/>
<line x1="520.2" y1="367.4" x2="550.6" y2="307.4" stroke="#111" stroke-width="1.25"/>
<polygon points="550.6,307.4 547.5,317.6 544.2,316" fill="#111"/>
<rect x="614.6" y="394.7" width="122.4" height="3.2" rx="0" fill="none" stroke="#111" stroke-width="1.38"/>
<line x1="625.2" y1="394.7" x2="625.2" y2="397.9" stroke="#111" stroke-width="1.12"/>
<line x1="635.2" y1="394.7" x2="635.2" y2="397.9" stroke="#111" stroke-width="1.12"/>
<line x1="716" y1="394.7" x2="716" y2="397.9" stroke="#111" stroke-width="1.12"/>
<line x1="726.6" y1="394.7" x2="726.6" y2="397.9" stroke="#111" stroke-width="1.12"/>
<path d="M629.3 394.8 L630.5 389 Q632 384 635.2 382 Q640 379 646.9 377.3 L655.1 373.2 Q657.5 371.8 659.8 371.8 L692.6 371.8 Q695 371.8 697.3 373.8 L705.5 377.9 Q712 379.5 716 382 Q719.5 384.5 720.7 389 L721.9 394.8" fill="none" stroke="#111" stroke-width="1.38"/>
<path d="M646.3 395.2 L654.5 373.8 M697.9 374.3 L706.1 395.2" fill="none" stroke="#111" stroke-width="1.38"/>
<line x1="630" y1="390.5" x2="721" y2="390.5" stroke="#111" stroke-width="1.38" stroke-dasharray="4.5 2"/>
<line x1="630" y1="372.5" x2="630" y2="390" stroke="#111" stroke-width="1.25"/>
<line x1="646" y1="396.3" x2="706" y2="396.3" stroke="#111" stroke-width="1"/>
<line x1="614.7" y1="401.4" x2="614.7" y2="482.8" stroke="#111" stroke-width="1.25"/>
<line x1="736.8" y1="401.4" x2="736.8" y2="482.8" stroke="#111" stroke-width="1.25"/>
<line x1="629.6" y1="400.4" x2="629.6" y2="457" stroke="#111" stroke-width="1.25" stroke-dasharray="22 4"/>
<line x1="805.6" y1="302.5" x2="805.6" y2="457" stroke="#111" stroke-width="1.25"/>
<line x1="654" y1="445.8" x2="629.6" y2="445.8" stroke="#111" stroke-width="1.25"/>
<polygon points="629.6,445.8 640.1,444 640.1,447.6" fill="#111"/>
<line x1="697.7" y1="445.8" x2="721.6" y2="445.8" stroke="#111" stroke-width="1.25"/>
<polygon points="721.6,445.8 711.1,447.6 711.1,444" fill="#111"/>
<text class="c" x="658.6" y="449.9" font-size="12.2" text-anchor="start" textLength="34.6" lengthAdjust="spacingAndGlyphs">(3.00)</text>
<line x1="741.6" y1="445.8" x2="721.6" y2="445.8" stroke="#111" stroke-width="1.25"/>
<polygon points="721.6,445.8 732.1,444 732.1,447.6" fill="#111"/>
<line x1="785.7" y1="445.8" x2="805.6" y2="445.8" stroke="#111" stroke-width="1.25"/>
<polygon points="805.6,445.8 795.1,447.6 795.1,444" fill="#111"/>
<text class="c" x="746.2" y="449.9" font-size="12.2" text-anchor="start" textLength="34.6" lengthAdjust="spacingAndGlyphs">(2.75)</text>
<line x1="654" y1="472" x2="614.7" y2="472" stroke="#111" stroke-width="1.25"/>
<polygon points="614.7,472 625.2,470.2 625.2,473.8" fill="#111"/>
<line x1="697.7" y1="472" x2="736.8" y2="472" stroke="#111" stroke-width="1.25"/>
<polygon points="736.8,472 726.3,473.8 726.3,470.2" fill="#111"/>
<text class="c" x="658.6" y="476.1" font-size="12.2" text-anchor="start" textLength="34.6" lengthAdjust="spacingAndGlyphs">(4.00)</text>
<circle cx="1093.6" cy="292" r="98.5" fill="none" stroke="#111" stroke-width="2"/>
<path d="M1072.2 192.3 L1048 159.4 A27 27 0 0 0 1001.5 186.2 L1018 223.6" fill="none" stroke="#111" stroke-width="1.38"/>
<g transform="translate(1080.8 193.6) rotate(-7.4)"><rect x="-3.4" y="-3.6" width="6.8" height="3.6" fill="none" stroke="#111" stroke-width="1.3"/><line x1="-1.1" y1="-3.6" x2="-1.1" y2="0" stroke="#111"/><line x1="1.2" y1="-3.6" x2="1.2" y2="0" stroke="#111"/></g>
<g transform="translate(1014.8 231.7) rotate(-52.6)"><rect x="-3.4" y="-3.6" width="6.8" height="3.6" fill="none" stroke="#111" stroke-width="1.3"/><line x1="-1.1" y1="-3.6" x2="-1.1" y2="0" stroke="#111"/><line x1="1.2" y1="-3.6" x2="1.2" y2="0" stroke="#111"/></g>
<path d="M1169.2 223.6 L1185.7 186.2 A27 27 0 0 0 1139.2 159.4 L1115 192.3" fill="none" stroke="#111" stroke-width="1.38"/>
<g transform="translate(1106.4 193.6) rotate(7.4)"><rect x="-3.4" y="-3.6" width="6.8" height="3.6" fill="none" stroke="#111" stroke-width="1.3"/><line x1="-1.1" y1="-3.6" x2="-1.1" y2="0" stroke="#111"/><line x1="1.2" y1="-3.6" x2="1.2" y2="0" stroke="#111"/></g>
<g transform="translate(1172.4 231.7) rotate(52.6)"><rect x="-3.4" y="-3.6" width="6.8" height="3.6" fill="none" stroke="#111" stroke-width="1.3"/><line x1="-1.1" y1="-3.6" x2="-1.1" y2="0" stroke="#111"/><line x1="1.2" y1="-3.6" x2="1.2" y2="0" stroke="#111"/></g>
<rect x="994.2" y="395.7" width="198.8" height="3.3" rx="0" fill="none" stroke="#111" stroke-width="1.5"/>
<line x1="997.2" y1="397.4" x2="1190" y2="397.4" stroke="#111" stroke-width="1" stroke-dasharray="4 2"/>
<path d="M1002.6 395.7 L1027.3 374.2 Q1029.8 371.6 1032.6 372.4 L1035.2 374.6" fill="none" stroke="#111" stroke-width="1.5"/>
<path d="M1008 395.7 L1028.8 376.6 Q1031 374.2 1033.2 374.8" fill="none" stroke="#111" stroke-width="1.25" stroke-dasharray="5 2"/>
<path d="M1049.3 395.7 L1056.2 387.4" fill="none" stroke="#111" stroke-width="1.38"/>
<path d="M1053.2 395.7 L1058 388.3" fill="none" stroke="#111" stroke-width="1.25"/>
<path d="M1080.2 396.2 L1079.4 393 Q1078.4 391.2 1075.6 391" fill="none" stroke="#111" stroke-width="1.25"/>
<line x1="1079.6" y1="394.9" x2="1051.6" y2="394.9" stroke="#111" stroke-width="1"/>
<path d="M1184.6 395.7 L1159.9 374.2 Q1157.4 371.6 1154.6 372.4 L1152 374.6" fill="none" stroke="#111" stroke-width="1.5"/>
<path d="M1179.2 395.7 L1158.4 376.6 Q1156.2 374.2 1154 374.8" fill="none" stroke="#111" stroke-width="1.25" stroke-dasharray="5 2"/>
<path d="M1137.9 395.7 L1131 387.4" fill="none" stroke="#111" stroke-width="1.38"/>
<path d="M1134 395.7 L1129.2 388.3" fill="none" stroke="#111" stroke-width="1.25"/>
<path d="M1107 396.2 L1107.8 393 Q1108.8 391.2 1111.6 391" fill="none" stroke="#111" stroke-width="1.25"/>
<line x1="1107.6" y1="394.9" x2="1135.6" y2="394.9" stroke="#111" stroke-width="1"/>
<path d="M1154.7 370.2 A99.2 99.2 0 0 1 1032.5 370.2" fill="none" stroke="#111" stroke-width="1.25"/>
<path d="M1155.6 372.8 A101.9 101.9 0 0 1 1031.6 372.8" fill="none" stroke="#111" stroke-width="1.12" stroke-dasharray="5 2"/>
<line x1="1080.2" y1="393.2" x2="1107" y2="393.2" stroke="#111" stroke-width="1.62"/>
<line x1="1084.6" y1="394.6" x2="1102.6" y2="394.6" stroke="#111" stroke-width="1" stroke-dasharray="2 1.5"/>
<circle cx="1093.6" cy="292" r="69.4" fill="none" stroke="#111" stroke-width="1.38"/>
<circle cx="1093.6" cy="292" r="64.6" fill="none" stroke="#111" stroke-width="1.25"/>
<circle cx="1093.6" cy="292" r="27.6" fill="none" stroke="#111" stroke-width="1.38"/>
<circle cx="1093.6" cy="292" r="25.4" fill="none" stroke="#111" stroke-width="1.25"/>
<circle cx="1093.6" cy="292" r="10.3" fill="none" stroke="#111" stroke-width="2.75"/>
<rect x="1090.2" y="279.6" width="6.8" height="5.8" rx="0" fill="none" stroke="#111" stroke-width="1.25"/>
<circle cx="1063.6" cy="292" r="2.6" fill="none" stroke="#111" stroke-width="1.38"/>
<circle cx="1123.6" cy="292" r="2.6" fill="none" stroke="#111" stroke-width="1.38"/>
<path d="M1100.5 247.3 A45.2 45.2 0 0 1 1120.3 255.5 A3.6 3.6 0 0 0 1125.5 255.1 L1129.5 250.4 A3.6 3.6 0 0 0 1129.1 245.4 A58.6 58.6 0 0 0 1101.5 233.9 A3.6 3.6 0 0 0 1097.6 237.1 L1097.2 243.3 A3.6 3.6 0 0 0 1100.5 247.3 Z" fill="none" stroke="#111" stroke-width="1.88"/>
<path d="M1100.1 262.5 A30.2 30.2 0 0 1 1109.8 266.5 A3.4 3.4 0 0 0 1114.7 265.9 L1118 261.8 A3.4 3.4 0 0 0 1117.4 257.2 A42.2 42.2 0 0 0 1101.4 250.5 A3.4 3.4 0 0 0 1097.7 253.4 L1097.1 258.6 A3.4 3.4 0 0 0 1100.1 262.5 Z" fill="none" stroke="#111" stroke-width="1.88"/>
<path d="M1130.1 265.3 A45.2 45.2 0 0 1 1138.3 285.1 A3.6 3.6 0 0 0 1142.3 288.4 L1148.5 288 A3.6 3.6 0 0 0 1151.7 284.1 A58.6 58.6 0 0 0 1140.2 256.5 A3.6 3.6 0 0 0 1135.2 256.1 L1130.5 260.1 A3.6 3.6 0 0 0 1130.1 265.3 Z" fill="none" stroke="#111" stroke-width="1.88"/>
<path d="M1119.1 275.8 A30.2 30.2 0 0 1 1123.1 285.5 A3.4 3.4 0 0 0 1127 288.5 L1132.2 287.9 A3.4 3.4 0 0 0 1135.1 284.2 A42.2 42.2 0 0 0 1128.4 268.2 A3.4 3.4 0 0 0 1123.8 267.6 L1119.7 270.9 A3.4 3.4 0 0 0 1119.1 275.8 Z" fill="none" stroke="#111" stroke-width="1.88"/>
<path d="M1138.3 298.9 A45.2 45.2 0 0 1 1130.1 318.7 A3.6 3.6 0 0 0 1130.5 323.9 L1135.2 327.9 A3.6 3.6 0 0 0 1140.2 327.5 A58.6 58.6 0 0 0 1151.7 299.9 A3.6 3.6 0 0 0 1148.5 296 L1142.3 295.6 A3.6 3.6 0 0 0 1138.3 298.9 Z" fill="none" stroke="#111" stroke-width="1.88"/>
<path d="M1123.1 298.5 A30.2 30.2 0 0 1 1119.1 308.2 A3.4 3.4 0 0 0 1119.7 313.1 L1123.8 316.4 A3.4 3.4 0 0 0 1128.4 315.8 A42.2 42.2 0 0 0 1135.1 299.8 A3.4 3.4 0 0 0 1132.2 296.1 L1127 295.5 A3.4 3.4 0 0 0 1123.1 298.5 Z" fill="none" stroke="#111" stroke-width="1.88"/>
<path d="M1120.3 328.5 A45.2 45.2 0 0 1 1100.5 336.7 A3.6 3.6 0 0 0 1097.2 340.7 L1097.6 346.9 A3.6 3.6 0 0 0 1101.5 350.1 A58.6 58.6 0 0 0 1129.1 338.6 A3.6 3.6 0 0 0 1129.5 333.6 L1125.5 328.9 A3.6 3.6 0 0 0 1120.3 328.5 Z" fill="none" stroke="#111" stroke-width="1.88"/>
<path d="M1109.8 317.5 A30.2 30.2 0 0 1 1100.1 321.5 A3.4 3.4 0 0 0 1097.1 325.4 L1097.7 330.6 A3.4 3.4 0 0 0 1101.4 333.5 A42.2 42.2 0 0 0 1117.4 326.8 A3.4 3.4 0 0 0 1118 322.2 L1114.7 318.1 A3.4 3.4 0 0 0 1109.8 317.5 Z" fill="none" stroke="#111" stroke-width="1.88"/>
<path d="M1086.7 336.7 A45.2 45.2 0 0 1 1066.9 328.5 A3.6 3.6 0 0 0 1061.7 328.9 L1057.7 333.6 A3.6 3.6 0 0 0 1058.1 338.6 A58.6 58.6 0 0 0 1085.7 350.1 A3.6 3.6 0 0 0 1089.6 346.9 L1090 340.7 A3.6 3.6 0 0 0 1086.7 336.7 Z" fill="none" stroke="#111" stroke-width="1.88"/>
<path d="M1087.1 321.5 A30.2 30.2 0 0 1 1077.4 317.5 A3.4 3.4 0 0 0 1072.5 318.1 L1069.2 322.2 A3.4 3.4 0 0 0 1069.8 326.8 A42.2 42.2 0 0 0 1085.8 333.5 A3.4 3.4 0 0 0 1089.5 330.6 L1090.1 325.4 A3.4 3.4 0 0 0 1087.1 321.5 Z" fill="none" stroke="#111" stroke-width="1.88"/>
<path d="M1057.1 318.7 A45.2 45.2 0 0 1 1048.9 298.9 A3.6 3.6 0 0 0 1044.9 295.6 L1038.7 296 A3.6 3.6 0 0 0 1035.5 299.9 A58.6 58.6 0 0 0 1047 327.5 A3.6 3.6 0 0 0 1052 327.9 L1056.7 323.9 A3.6 3.6 0 0 0 1057.1 318.7 Z" fill="none" stroke="#111" stroke-width="1.88"/>
<path d="M1068.1 308.2 A30.2 30.2 0 0 1 1064.1 298.5 A3.4 3.4 0 0 0 1060.2 295.5 L1055 296.1 A3.4 3.4 0 0 0 1052.1 299.8 A42.2 42.2 0 0 0 1058.8 315.8 A3.4 3.4 0 0 0 1063.4 316.4 L1067.5 313.1 A3.4 3.4 0 0 0 1068.1 308.2 Z" fill="none" stroke="#111" stroke-width="1.88"/>
<path d="M1048.9 285.1 A45.2 45.2 0 0 1 1057.1 265.3 A3.6 3.6 0 0 0 1056.7 260.1 L1052 256.1 A3.6 3.6 0 0 0 1047 256.5 A58.6 58.6 0 0 0 1035.5 284.1 A3.6 3.6 0 0 0 1038.7 288 L1044.9 288.4 A3.6 3.6 0 0 0 1048.9 285.1 Z" fill="none" stroke="#111" stroke-width="1.88"/>
<path d="M1064.1 285.5 A30.2 30.2 0 0 1 1068.1 275.8 A3.4 3.4 0 0 0 1067.5 270.9 L1063.4 267.6 A3.4 3.4 0 0 0 1058.8 268.2 A42.2 42.2 0 0 0 1052.1 284.2 A3.4 3.4 0 0 0 1055 287.9 L1060.2 288.5 A3.4 3.4 0 0 0 1064.1 285.5 Z" fill="none" stroke="#111" stroke-width="1.88"/>
<path d="M1066.9 255.5 A45.2 45.2 0 0 1 1086.7 247.3 A3.6 3.6 0 0 0 1090 243.3 L1089.6 237.1 A3.6 3.6 0 0 0 1085.7 233.9 A58.6 58.6 0 0 0 1058.1 245.4 A3.6 3.6 0 0 0 1057.7 250.4 L1061.7 255.1 A3.6 3.6 0 0 0 1066.9 255.5 Z" fill="none" stroke="#111" stroke-width="1.88"/>
<path d="M1077.4 266.5 A30.2 30.2 0 0 1 1087.1 262.5 A3.4 3.4 0 0 0 1090.1 258.6 L1089.5 253.4 A3.4 3.4 0 0 0 1085.8 250.5 A42.2 42.2 0 0 0 1069.8 257.2 A3.4 3.4 0 0 0 1069.2 261.8 L1072.5 265.9 A3.4 3.4 0 0 0 1077.4 266.5 Z" fill="none" stroke="#111" stroke-width="1.88"/>
<line x1="1090.8" y1="222.6" x2="1090.8" y2="193.8" stroke="#111" stroke-width="1.25"/>
<line x1="1096.4" y1="222.6" x2="1096.4" y2="193.8" stroke="#111" stroke-width="1.25"/>
<line x1="1114.2" y1="225.7" x2="1123.8" y2="198.7" stroke="#111" stroke-width="1.25"/>
<line x1="1119.3" y1="227.5" x2="1128.9" y2="200.5" stroke="#111" stroke-width="1.25"/>
<line x1="1158.1" y1="266.3" x2="1185.1" y2="256.7" stroke="#111" stroke-width="1.25"/>
<line x1="1159.9" y1="271.4" x2="1186.9" y2="261.8" stroke="#111" stroke-width="1.25"/>
<line x1="1156.3" y1="216.1" x2="1136.5" y2="236" stroke="#111" stroke-width="1.38"/>
<line x1="1149.6" y1="249.1" x2="1169.5" y2="229.3" stroke="#111" stroke-width="1.38"/>
<line x1="1141.9" y1="230.6" x2="1155" y2="243.7" stroke="#111" stroke-width="1.38"/>
<line x1="1139.9" y1="232.5" x2="1153.1" y2="245.7" stroke="#111" stroke-width="1.12"/>
<polygon points="1160.4,232.7 1155.3,234 1151.6,230.3 1152.9,225.2 1158,223.8 1161.8,227.6" fill="none" stroke="#111" stroke-width="1.62"/>
<path d="M1096.7 218.9 A73.2 73.2 0 0 1 1115 222" fill="none" stroke="#111" stroke-width="1.12"/>
<path d="M1163.6 270.6 A73.2 73.2 0 0 1 1166.7 288.9" fill="none" stroke="#111" stroke-width="1.12"/>
<line x1="1163" y1="289.2" x2="1191.8" y2="289.2" stroke="#111" stroke-width="1.25"/>
<line x1="1163" y1="294.8" x2="1191.8" y2="294.8" stroke="#111" stroke-width="1.25"/>
<line x1="1159.9" y1="312.6" x2="1186.9" y2="322.2" stroke="#111" stroke-width="1.25"/>
<line x1="1158.1" y1="317.7" x2="1185.1" y2="327.3" stroke="#111" stroke-width="1.25"/>
<line x1="1119.3" y1="356.5" x2="1128.9" y2="383.5" stroke="#111" stroke-width="1.25"/>
<line x1="1114.2" y1="358.3" x2="1123.8" y2="385.3" stroke="#111" stroke-width="1.25"/>
<line x1="1169.5" y1="354.7" x2="1149.6" y2="334.9" stroke="#111" stroke-width="1.38"/>
<line x1="1136.5" y1="348" x2="1156.3" y2="367.9" stroke="#111" stroke-width="1.38"/>
<line x1="1155" y1="340.3" x2="1141.9" y2="353.4" stroke="#111" stroke-width="1.38"/>
<line x1="1153.1" y1="338.3" x2="1139.9" y2="351.5" stroke="#111" stroke-width="1.12"/>
<polygon points="1152.9,358.8 1151.6,353.7 1155.3,350 1160.4,351.3 1161.8,356.4 1158,360.2" fill="none" stroke="#111" stroke-width="1.62"/>
<path d="M1166.7 295.1 A73.2 73.2 0 0 1 1163.6 313.4" fill="none" stroke="#111" stroke-width="1.12"/>
<path d="M1115 362 A73.2 73.2 0 0 1 1096.7 365.1" fill="none" stroke="#111" stroke-width="1.12"/>
<line x1="1096.4" y1="361.4" x2="1096.4" y2="390.2" stroke="#111" stroke-width="1.25"/>
<line x1="1090.8" y1="361.4" x2="1090.8" y2="390.2" stroke="#111" stroke-width="1.25"/>
<line x1="1073" y1="358.3" x2="1063.4" y2="385.3" stroke="#111" stroke-width="1.25"/>
<line x1="1067.9" y1="356.5" x2="1058.3" y2="383.5" stroke="#111" stroke-width="1.25"/>
<line x1="1029.1" y1="317.7" x2="1002.1" y2="327.3" stroke="#111" stroke-width="1.25"/>
<line x1="1027.3" y1="312.6" x2="1000.3" y2="322.2" stroke="#111" stroke-width="1.25"/>
<line x1="1030.9" y1="367.9" x2="1050.7" y2="348" stroke="#111" stroke-width="1.38"/>
<line x1="1037.6" y1="334.9" x2="1017.7" y2="354.7" stroke="#111" stroke-width="1.38"/>
<line x1="1045.3" y1="353.4" x2="1032.2" y2="340.3" stroke="#111" stroke-width="1.38"/>
<line x1="1047.3" y1="351.5" x2="1034.1" y2="338.3" stroke="#111" stroke-width="1.12"/>
<polygon points="1026.8,351.3 1031.9,350 1035.6,353.7 1034.3,358.8 1029.2,360.2 1025.4,356.4" fill="none" stroke="#111" stroke-width="1.62"/>
<path d="M1090.5 365.1 A73.2 73.2 0 0 1 1072.2 362" fill="none" stroke="#111" stroke-width="1.12"/>
<path d="M1023.6 313.4 A73.2 73.2 0 0 1 1020.5 295.1" fill="none" stroke="#111" stroke-width="1.12"/>
<line x1="1024.2" y1="294.8" x2="995.4" y2="294.8" stroke="#111" stroke-width="1.25"/>
<line x1="1024.2" y1="289.2" x2="995.4" y2="289.2" stroke="#111" stroke-width="1.25"/>
<line x1="1027.3" y1="271.4" x2="1000.3" y2="261.8" stroke="#111" stroke-width="1.25"/>
<line x1="1029.1" y1="266.3" x2="1002.1" y2="256.7" stroke="#111" stroke-width="1.25"/>
<line x1="1067.9" y1="227.5" x2="1058.3" y2="200.5" stroke="#111" stroke-width="1.25"/>
<line x1="1073" y1="225.7" x2="1063.4" y2="198.7" stroke="#111" stroke-width="1.25"/>
<line x1="1017.7" y1="229.3" x2="1037.6" y2="249.1" stroke="#111" stroke-width="1.38"/>
<line x1="1050.7" y1="236" x2="1030.9" y2="216.1" stroke="#111" stroke-width="1.38"/>
<line x1="1032.2" y1="243.7" x2="1045.3" y2="230.6" stroke="#111" stroke-width="1.38"/>
<line x1="1034.1" y1="245.7" x2="1047.3" y2="232.5" stroke="#111" stroke-width="1.12"/>
<polygon points="1034.3,225.2 1035.6,230.3 1031.9,234 1026.8,232.7 1025.4,227.6 1029.2,223.8" fill="none" stroke="#111" stroke-width="1.62"/>
<path d="M1020.5 288.9 A73.2 73.2 0 0 1 1023.6 270.6" fill="none" stroke="#111" stroke-width="1.12"/>
<path d="M1072.2 222 A73.2 73.2 0 0 1 1090.5 218.9" fill="none" stroke="#111" stroke-width="1.12"/>
<line x1="1093.6" y1="62.1" x2="1093.6" y2="186" stroke="#111" stroke-width="1.25"/>
<line x1="1093.6" y1="190" x2="1093.6" y2="413.6" stroke="#111" stroke-width="1.25" stroke-dasharray="22 4 5 4"/>
<line x1="989.3" y1="292" x2="1201" y2="292" stroke="#111" stroke-width="1.25" stroke-dasharray="22 4 5 4"/>
<path d="M997.7 126.1 L1093.6 292" fill="none" stroke="#111" stroke-width="1.25" stroke-dasharray="32.5 5 4 5 73 5 4 5"/>
<path d="M1189.7 126.6 L1093.6 292" fill="none" stroke="#111" stroke-width="1.25" stroke-dasharray="32.5 5 4 5 73 5 4 5"/>
<path d="M1256.9 128.6 L1093.6 292" fill="none" stroke="#111" stroke-width="1.25" stroke-dasharray="50 6 4.5 4.5 73 4.5 4.5 4.5"/>
<path d="M1099.3 72.6 A219.5 219.5 0 0 1 1158.1 82.2" fill="none" stroke="#111" stroke-width="1.25"/>
<path d="M1196 97.8 A219.5 219.5 0 0 1 1243.3 131.5" fill="none" stroke="#111" stroke-width="1.25"/>
<polygon points="1094.6,72.5 1105,70.4 1105.1,74" fill="#111"/>
<polygon points="1247.7,135.7 1238.9,129.7 1241.4,127.1" fill="#111"/>
<text class="c" x="1163.8" y="88.6" font-size="12.2" text-anchor="start" textLength="27" lengthAdjust="spacingAndGlyphs">(45°)</text>
<text class="c" x="1167" y="101" font-size="12.2" text-anchor="start" textLength="22" lengthAdjust="spacingAndGlyphs">TYP.</text>
<path d="M1010.3 131.9 A180.5 180.5 0 0 1 1028.9 123.5" fill="none" stroke="#111" stroke-width="1.25"/>
<path d="M1065.4 113.7 A180.5 180.5 0 0 1 1087.3 111.6" fill="none" stroke="#111" stroke-width="1.25"/>
<path d="M1099.9 111.6 A180.5 180.5 0 0 1 1121.8 113.7" fill="none" stroke="#111" stroke-width="1.25"/>
<path d="M1158.3 123.5 A180.5 180.5 0 0 1 1176.9 131.9" fill="none" stroke="#111" stroke-width="1.25"/>
<polygon points="1004.4,135.1 1012.8,128.4 1014.5,131.6" fill="#111"/>
<polygon points="1182.8,135.1 1172.7,131.6 1174.4,128.4" fill="#111"/>
<polygon points="1093,111.5 1082.5,113.5 1082.5,109.9" fill="#111"/>
<polygon points="1094.2,111.5 1104.7,109.9 1104.7,113.5" fill="#111"/>
<text class="c" x="1033.4" y="122.4" font-size="12.2" text-anchor="start" textLength="27.4" lengthAdjust="spacingAndGlyphs">(30°)</text>
<text class="c" x="1126.8" y="122.4" font-size="12.2" text-anchor="start" textLength="27.4" lengthAdjust="spacingAndGlyphs">(30°)</text>
<line x1="1018.9" y1="376.8" x2="1018.9" y2="390.2" stroke="#111" stroke-width="1.25"/>
<line x1="1018.9" y1="400.4" x2="1018.9" y2="417.7" stroke="#111" stroke-width="1.25"/>
<line x1="1168.5" y1="376.8" x2="1168.5" y2="390.2" stroke="#111" stroke-width="1.25"/>
<line x1="1168.5" y1="400.4" x2="1168.5" y2="417.7" stroke="#111" stroke-width="1.25"/>
<path d="M1044.3 459.4 L1041.3 459.4 L1031.4 368" fill="none" stroke="#111" stroke-width="1.25"/>
<polygon points="1031,365.3 1033.8,375.6 1030.3,375.9" fill="#111"/>
<text class="c" y="443.6" font-size="12.2"><tspan x="1049" textLength="44.8" lengthAdjust="spacingAndGlyphs">#10−32</tspan> <tspan x="1102.3" textLength="45.8" lengthAdjust="spacingAndGlyphs">UNF−2A</tspan></text>
<text class="c" y="456" font-size="12.2"><tspan x="1049" textLength="73.3" lengthAdjust="spacingAndGlyphs">THRU−BOLTS</tspan> <tspan x="1130.8" textLength="14.7" lengthAdjust="spacingAndGlyphs">ON</tspan></text>
<text class="c" y="470.2" font-size="12.2"><tspan x="1049" textLength="5.8" lengthAdjust="spacingAndGlyphs">A</tspan> <tspan x="1063.6" textLength="36.7" lengthAdjust="spacingAndGlyphs">(5.812</tspan> <tspan x="1108.4" textLength="25.5" lengthAdjust="spacingAndGlyphs">DIA.)</tspan> <tspan x="1142.6" textLength="20.8" lengthAdjust="spacingAndGlyphs">B.C.</tspan></text>
<text class="c" y="484.3" font-size="12.2"><tspan x="1049" textLength="10.6" lengthAdjust="spacingAndGlyphs">(4</tspan> <tspan x="1069.1" textLength="45.9" lengthAdjust="spacingAndGlyphs">PLACES)</tspan></text>
</svg>
</body>
</html>
